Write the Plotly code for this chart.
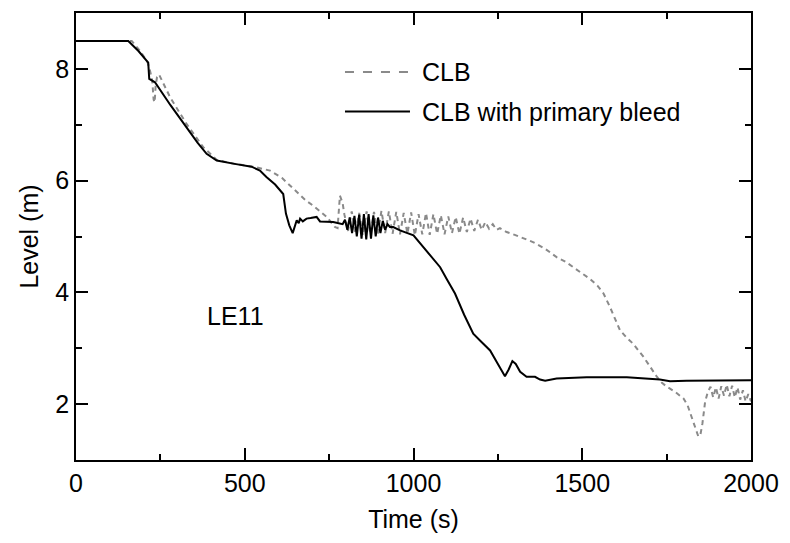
import plotly.graph_objects as go

# ---- data ----
bleed_t = [0, 155, 185, 214, 217, 234, 280, 328, 360, 387, 417, 470, 520, 545, 565, 590, 610, 614,
           622, 632, 642, 648, 654, 660, 664, 672, 683, 695, 713, 723, 745, 762, 775,
           790, 797, 804, 811, 818, 825, 832, 839, 846, 853, 860, 867, 874, 881, 888, 895, 902,
           909, 916, 923, 930,
           940, 960, 1000, 1029, 1050, 1079, 1100, 1123, 1150, 1177, 1200, 1227, 1250, 1271,
           1282, 1293, 1303, 1316, 1335, 1360, 1375, 1390, 1424, 1513, 1632, 1730, 1760, 1809, 2010]
bleed_y = [8.5, 8.5, 8.32, 8.11, 7.82, 7.76, 7.35, 6.95, 6.68, 6.48, 6.36, 6.30, 6.25, 6.18, 6.06, 5.93, 5.79, 5.76,
           5.41, 5.20, 5.06, 5.18, 5.29, 5.24, 5.32, 5.27, 5.32, 5.33, 5.35, 5.27, 5.26, 5.26, 5.24,
           5.22, 5.30, 5.12, 5.34, 5.06, 5.37, 5.00, 5.39, 4.96, 5.40, 4.95, 5.40, 4.96, 5.38, 5.00, 5.34, 5.06,
           5.28, 5.12, 5.22, 5.17,
           5.17, 5.11, 5.02, 4.81, 4.65, 4.45, 4.22, 3.98, 3.60, 3.26, 3.12, 2.96, 2.72, 2.50,
           2.62, 2.77, 2.72, 2.58, 2.49, 2.49, 2.44, 2.42, 2.46, 2.48, 2.48, 2.44, 2.41, 2.42, 2.43]

clb_t = [0, 165, 190, 212, 220, 226, 230, 233, 236, 240, 246, 262, 279, 328, 377, 417, 470, 525, 575,
         610, 644, 654, 680, 703, 743, 767, 775, 782, 790,
         795, 806, 817, 828, 839, 850, 861, 872, 883, 894, 905, 916, 927, 938, 949, 960, 971, 982,
         993, 1004, 1015, 1026, 1037, 1048, 1059, 1070, 1081, 1092, 1103, 1114, 1125, 1136, 1147,
         1158, 1169, 1180, 1191, 1202, 1213, 1224, 1235, 1246, 1256,
         1276, 1300, 1330, 1354, 1390, 1424, 1450, 1474, 1500, 1523, 1545, 1563, 1582, 1598, 1612,
         1630, 1651, 1665, 1681, 1700, 1721, 1736, 1751, 1775, 1800, 1812, 1824, 1835, 1844, 1850,
         1856, 1864, 1872, 1880, 1888, 1896, 1904, 1912, 1920, 1928, 1936, 1944, 1952, 1960, 1968,
         1976, 1984, 1992, 2000]
clb_y = [8.5, 8.5, 8.32, 8.12, 7.95, 7.78, 7.45, 7.40, 7.70, 7.85, 7.90, 7.70, 7.49, 7.01, 6.60, 6.37, 6.30, 6.25, 6.18,
         6.05, 5.85, 5.79, 5.65, 5.55, 5.35, 5.17, 5.15, 5.73, 5.60,
         5.40, 5.10, 5.45, 5.05, 5.42, 5.02, 5.45, 5.05, 5.44, 5.03, 5.46, 5.06, 5.45, 5.05, 5.44, 5.04, 5.42, 5.05,
         5.43, 5.02, 5.40, 5.04, 5.42, 5.03, 5.40, 5.05, 5.38, 5.04, 5.36, 5.06, 5.35, 5.05, 5.34,
         5.08, 5.32, 5.10, 5.30, 5.12, 5.26, 5.14, 5.22, 5.12, 5.15,
         5.08, 5.03, 4.96, 4.90, 4.78, 4.63, 4.55, 4.45, 4.34, 4.24, 4.12, 3.98, 3.74, 3.50, 3.32,
         3.20, 3.08, 2.97, 2.85, 2.68, 2.49, 2.38, 2.31, 2.22, 2.10, 1.98, 1.77, 1.58, 1.42, 1.45,
         1.65, 2.04, 2.22, 2.31, 2.12, 2.30, 2.10, 2.32, 2.15, 2.35, 2.14, 2.33, 2.12, 2.30, 2.08,
         2.25, 2.05, 2.18, 2.05]

series_names = ["CLB", "CLB with primary bleed"]
x_ticks = [0, 500, 1000, 1500, 2000]
y_ticks = [2, 4, 6, 8]

FONT = "Liberation Sans, Arial, sans-serif"
FS = 25
GRAY = "#8a8a8a"

fig = go.Figure()
fig.add_trace(go.Scatter(x=clb_t, y=clb_y, mode="lines", name=series_names[0],
                         line=dict(color=GRAY, width=2, dash="5px,4px"), showlegend=False))
fig.add_trace(go.Scatter(x=bleed_t, y=bleed_y, mode="lines", name=series_names[1],
                         line=dict(color="black", width=2), showlegend=False))

# legend drawn by hand to get long sample lines
leg_y = [0.868, 0.7795]
for yy, nm, col, ds in [(leg_y[0], series_names[0], GRAY, "dash"), (leg_y[1], series_names[1], "black", "solid")]:
    fig.add_shape(type="line", xref="paper", yref="paper", x0=0.3985, x1=0.4948, y0=yy, y1=yy,
                  line=dict(color=col, width=2, dash=ds))
    fig.add_annotation(xref="paper", yref="paper", x=0.5096, y=yy, text=nm, showarrow=False,
                       xanchor="left", yanchor="middle", font=dict(family=FONT, size=FS, color="black"))

fig.add_annotation(x=474, y=3.57, text="LE11", showarrow=False,
                   font=dict(family=FONT, size=FS, color="black"))

axis_common = dict(showline=True, linecolor="black", linewidth=1.5, mirror="ticks",
                   ticks="inside", ticklen=12, tickwidth=1.5, tickcolor="black",
                   showgrid=False, zeroline=False,
                   tickfont=dict(family=FONT, size=FS, color="black"))

fig.update_xaxes(range=[0, 2000], tickvals=x_ticks,
                 minor=dict(dtick=250, tick0=0, ticks="inside", ticklen=6, tickwidth=1.5, tickcolor="black"),
                 title=dict(text="Time (s)", font=dict(family=FONT, size=FS, color="black"), standoff=15),
                 **axis_common)
fig.update_yaxes(range=[1, 9], tickvals=y_ticks,
                 minor=dict(dtick=1, tick0=0, ticks="inside", ticklen=6, tickwidth=1.5, tickcolor="black"),
                 title=dict(text="Level (m)", font=dict(family=FONT, size=FS, color="black"), standoff=10),
                 **axis_common)

fig.update_layout(width=790, height=543, margin=dict(l=76, r=39, t=11, b=83),
                  paper_bgcolor="white", plot_bgcolor="white", showlegend=False)

fig.write_html("out.html")
